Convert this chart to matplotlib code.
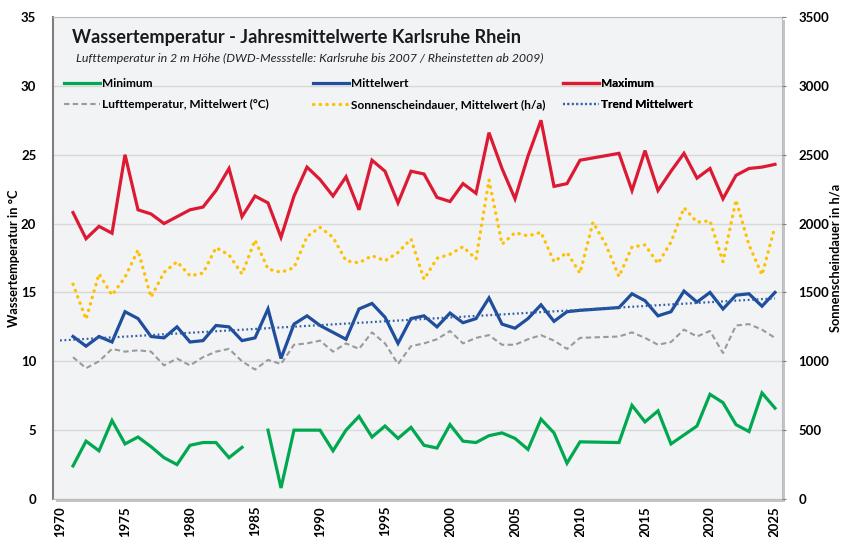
import numpy as np
import matplotlib
matplotlib.use("Agg")
import matplotlib.pyplot as plt
from matplotlib.patches import Rectangle

plt.rcParams['font.family'] = ['Lato', 'DejaVu Sans']

# water data: no values for 2011 and 2012 (line is drawn straight across)
water_years = list(range(1971, 2011)) + list(range(2013, 2026))
t_min = [2.4, 4.2, 3.5, 5.7, 4.0, 4.5, 3.8, 3.0, 2.5, 3.9,
         4.1, 4.1, 3.0, 3.75, np.nan, 5.0, 0.8, 5.0, 5.0, 5.0,
         3.5, 5.0, 6.0, 4.5, 5.3, 4.4, 5.2, 3.9, 3.7, 5.4,
         4.2, 4.1, 4.6, 4.8, 4.4, 3.6, 5.8, 4.8, 2.6, 4.15,
         4.1, 6.8, 5.6, 6.4, 4.0, 4.65, 5.3, 7.6, 7.0, 5.4, 4.9, 7.7, 6.6]
t_mean = [11.8, 11.1, 11.8, 11.4, 13.6, 13.1, 11.8, 11.7, 12.5, 11.4,
          11.5, 12.6, 12.5, 11.5, 11.7, 13.8, 10.2, 12.7, 13.3, 12.6,
          12.1, 11.6, 13.8, 14.2, 13.2, 11.3, 13.1, 13.3, 12.5, 13.5,
          12.8, 13.1, 14.6, 12.7, 12.4, 13.1, 14.1, 12.9, 13.6, 13.7,
          13.9, 14.9, 14.4, 13.3, 13.6, 15.1, 14.3, 15.0, 13.8, 14.8, 14.9, 14.0, 15.0]
t_max = [20.8, 18.9, 19.8, 19.3, 25.0, 21.0, 20.7, 20.0, 20.5, 21.0,
         21.2, 22.4, 24.0, 20.5, 22.0, 21.5, 19.0, 22.0, 24.1, 23.2,
         22.0, 23.4, 21.0, 24.6, 23.8, 21.5, 23.8, 23.6, 21.9, 21.6,
         22.9, 22.2, 26.6, 24.0, 21.8, 24.9, 27.5, 22.7, 22.9, 24.6,
         25.1, 22.4, 25.3, 22.4, 23.8, 25.1, 23.3, 24.0, 21.8, 23.5, 24.0, 24.1, 24.3]
t_air = [10.3, 9.5, 10.0, 10.9, 10.7, 10.8, 10.7, 9.7, 10.2, 9.7,
         10.3, 10.7, 10.9, 10.0, 9.4, 10.1, 9.8, 11.2, 11.3, 11.5,
         10.7, 11.3, 10.9, 12.1, 11.3, 9.8, 11.1, 11.3, 11.6, 12.2,
         11.3, 11.7, 11.9, 11.2, 11.2, 11.6, 11.9, 11.5, 10.9, 11.7,
         11.8, 12.1, 11.7, 11.2, 11.4, 12.3, 11.8, 12.2, 10.6, 12.6, 12.7, 12.3, 11.7]

sun_years = list(range(1971, 2026))
sunshine = [1560, 1305, 1635, 1480, 1610, 1808, 1465, 1646, 1723, 1620,
            1640, 1825, 1772, 1634, 1880, 1670, 1646, 1680, 1905, 1973,
            1900, 1730, 1715, 1767, 1730, 1790, 1888, 1595, 1748, 1777,
            1832, 1743, 2317, 1850, 1934, 1910, 1937, 1723, 1790, 1640,
            2010, 1845, 1615, 1830, 1845, 1710, 1865, 2115, 2010, 2020,
            1723, 2171, 1845, 1627, 1978]

year_ticks = list(range(1970, 2030, 5))

c_min = '#00A850'
c_mean = '#1F4E9C'
c_max = '#DC1A34'
c_air = '#9A9A9A'
c_sun = '#FFC000'
c_trend = '#2F5FA8'

W, H = 842, 537
fig = plt.figure(figsize=(W / 100, H / 100), dpi=100)
l, r, t, b = 53, 782, 17, 499
ax = fig.add_axes([l / W, 1 - b / H, (r - l) / W, (b - t) / H])
ax.set_facecolor('#F2F3F5')

# shadow behind the plot box
fig.add_artist(Rectangle(((l + 3) / W, 1 - (b + 3) / H), (r - l) / W, (b - t) / H,
                         transform=fig.transFigure, facecolor='#C4C4C4',
                         edgecolor='none', zorder=-1))

ax.set_xlim(1969.46, 2025.54)
ax.set_ylim(0, 35)
ax.set_yticks(range(0, 40, 5))
ax.grid(axis='y', color='#D8D8D8', lw=1)
ax.set_axisbelow(True)
ax.set_xticks(year_ticks)
ax.set_xticklabels([str(y) for y in year_ticks], rotation=90, fontweight='bold', fontsize=9.5)
ax.tick_params(axis='x', length=0, pad=5)
ax.tick_params(axis='y', length=0, pad=12, labelsize=9.5)
for lab in ax.get_yticklabels():
    lab.set_fontweight('bold')
for s in ['top', 'bottom', 'right']:
    ax.spines[s].set_color('#BDBDBD')
ax.spines['left'].set_color('#7F7F7F')
ax.spines['left'].set_linewidth(1.5)

yrs = np.array(water_years)
mean_arr = np.array(t_mean)
h_min, = ax.plot(yrs, t_min, color=c_min, lw=2.3, label='Minimum', solid_joinstyle='miter')
h_mean, = ax.plot(yrs, t_mean, color=c_mean, lw=2.3, label='Mittelwert', solid_joinstyle='miter')
h_max, = ax.plot(yrs, t_max, color=c_max, lw=2.3, label='Maximum', solid_joinstyle='miter')
h_air, = ax.plot(yrs, t_air, color=c_air, lw=1.5, ls=(0, (2.6, 1.6)),
                 label='Lufttemperatur, Mittelwert (°C)')

# linear trend of the mean water temperature
k, d = np.polyfit(yrs, mean_arr, 1)
tx = np.array([1970, 2025])
h_trend, = ax.plot(tx, k * tx + d, color=c_trend, lw=1.6, ls=(0, (0.8, 1.2)),
                   label='Trend Mittelwert')

ax2 = ax.twinx()
ax2.set_ylim(0, 3500)
ax2.set_yticks(range(0, 4000, 500))
ax2.tick_params(axis='y', length=3, color='#7F7F7F', pad=9, labelsize=9.5)
for lab in ax2.get_yticklabels():
    lab.set_fontweight('bold')
for s in ax2.spines.values():
    s.set_visible(False)
h_sun, = ax2.plot(sun_years, sunshine, color=c_sun, lw=2.4, ls=(0, (0.1, 1.9)),
                  dash_capstyle='round', label='Sonnenscheindauer, Mittelwert (h/a)')

fig.text(14 / W, 1 - 258 / H, 'Wassertemperatur in °C', rotation=90, ha='center',
         va='center', fontsize=9.2, fontweight='bold')
fig.text(836 / W, 1 - 258 / H, 'Sonnenscheindauer in h/a', rotation=90, ha='center',
         va='center', fontsize=9.2, fontweight='bold')

ax2.text(0.026, 0.957, 'Wassertemperatur - Jahresmittelwerte Karlsruhe Rhein',
         transform=ax.transAxes, fontsize=13.1, fontweight='bold', va='center', color='#1A1A1A')
ax2.text(0.031, 0.915, 'Lufttemperatur in 2 m Höhe (DWD-Messstelle: Karlsruhe bis 2007 / Rheinstetten ab 2009)',
         transform=ax.transAxes, fontsize=8.9, style='italic', va='center', color='#222222')

cols = [(0.0151, [h_min, h_air]), (0.3567, [h_mean, h_sun]), (0.6996, [h_max, h_trend])]
for x0, hs in cols:
    leg = ax2.legend(handles=hs, loc='center left', bbox_to_anchor=(x0, 0.840),
                     bbox_transform=ax.transAxes, frameon=False, borderaxespad=0,
                     borderpad=0, handlelength=3.0, handletextpad=0.15,
                     labelspacing=0.85, prop={'weight': 'bold', 'size': 8.6})
    ax2.add_artist(leg)

fig.savefig('out.png', dpi=100)
